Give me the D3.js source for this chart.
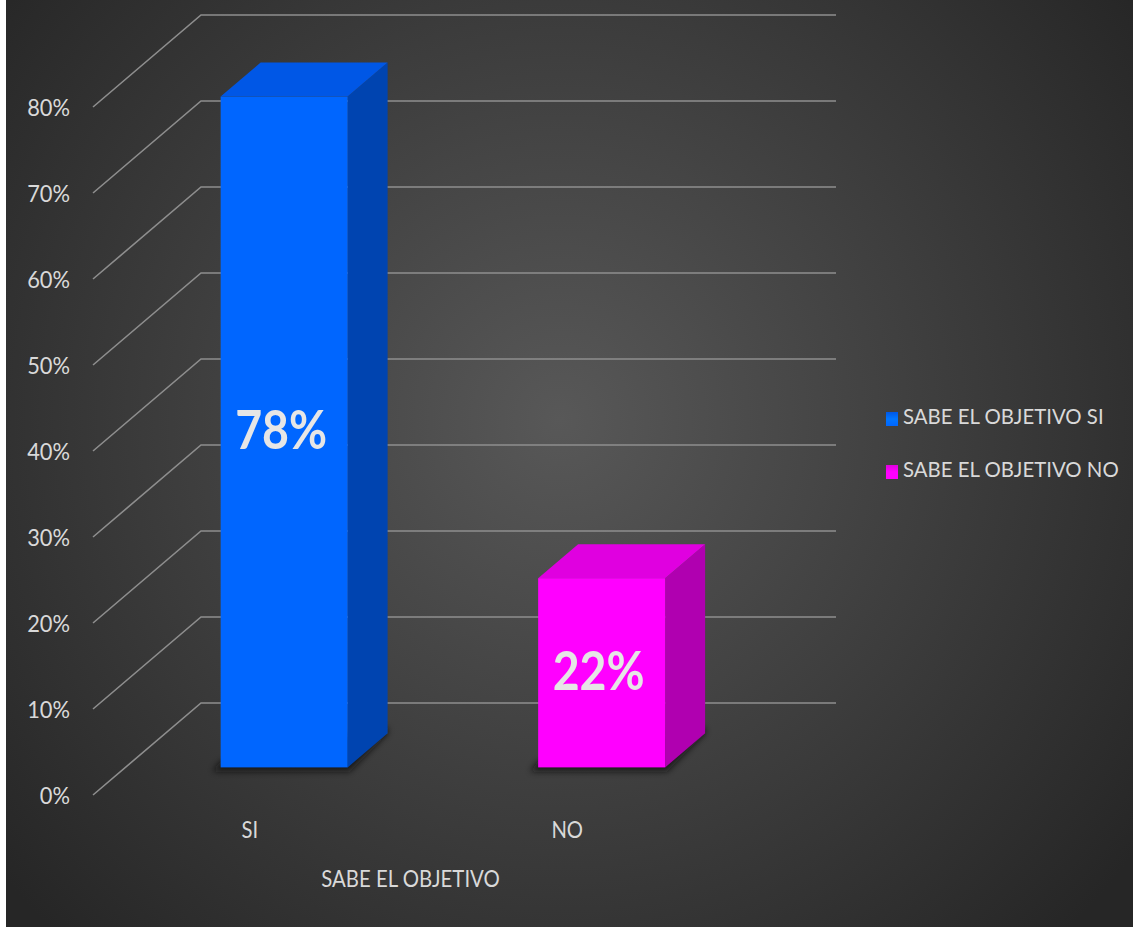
<!DOCTYPE html>
<html>
<head>
<meta charset="utf-8">
<script src="https://cdn.jsdelivr.net/npm/d3@7"></script>
<style>
  html, body { margin: 0; padding: 0; background: #ffffff; }
  svg { display: block; }
  text { font-family: Lato, "Liberation Sans", sans-serif; }
</style>
</head>
<body>
<svg id="chart" width="1133" height="927"></svg>
<script>
// ---- data ----
const categories = ["SI", "NO"];
const values = [0.78, 0.22];
const seriesNames = ["SABE EL OBJETIVO SI", "SABE EL OBJETIVO NO"];
const tickValues = [0, 0.1, 0.2, 0.3, 0.4, 0.5, 0.6, 0.7, 0.8];
const axisTitle = "SABE EL OBJETIVO";
const frontColors = ["#0066ff", "#ff00ff"];
const topColors = ["#0057e6", "#e000e0"];
const sideColors = ["#0044b0", "#b000b0"];

const svg = d3.select("#chart");
const W = 1133, H = 927;

// condense text horizontally (emulates a narrow font) while keeping it real text
function condense(sel, k) {
  sel.each(function () {
    const len = this.getComputedTextLength();
    d3.select(this).attr("textLength", len * k).attr("lengthAdjust", "spacingAndGlyphs");
  });
}

// background
const defs = svg.append("defs");
const bg = defs.append("radialGradient").attr("id", "bg")
  .attr("gradientUnits", "userSpaceOnUse")
  .attr("cx", 560).attr("cy", 420).attr("r", 720);
bg.append("stop").attr("offset", "0%").attr("stop-color", "#585858");
bg.append("stop").attr("offset", "100%").attr("stop-color", "#262626");

const shadow = defs.append("filter").attr("id", "shadow")
  .attr("x", "-30%").attr("y", "-30%").attr("width", "160%").attr("height", "160%");
shadow.append("feGaussianBlur").attr("stdDeviation", 3);

svg.append("rect").attr("x", 6).attr("y", 0).attr("width", W - 6).attr("height", H)
  .attr("fill", "url(#bg)");

// 3D geometry
const depth = [108, -92];      // vector from front plane to back wall
const t0 = 0.3, t1 = 0.67;     // bar front and back depth fractions

const y = d3.scaleLinear().domain([0, 0.8]).range([795, 107]);
const x = d3.scaleBand().domain(categories).range([93, 728]).padding(0);
const barW = x.bandwidth() * 0.4;

// gridlines
const grid = svg.append("g").attr("stroke", "#8e8e8e").attr("stroke-width", 1.6).attr("fill", "none");
tickValues.forEach(t => {
  const yf = y(t);
  const x0 = x.range()[0], x1 = x.range()[1];
  grid.append("path").attr("d", d3.line()([
    [x0, yf],
    [x0 + depth[0], yf + depth[1]],
    [x1 + depth[0], yf + depth[1]]
  ]));
});

// bars
const bars = svg.append("g");
categories.forEach((c, i) => {
  const cx = x(c) + x.bandwidth() / 2;
  const xl = cx - barW / 2 + depth[0] * t0;
  const xr = xl + barW;
  const yb = y(0) + depth[1] * t0;
  const yt = y(values[i]) + depth[1] * t0;
  const dx = depth[0] * (t1 - t0), dy = depth[1] * (t1 - t0);

  // shadow
  bars.append("path")
    .attr("d", d3.line()([[xl - 8, yb + 4], [xr + 2, yb + 4], [xr + dx, yb + dy], [xr + dx, yb + dy - 6], [xl, yb - 6]]) + "Z")
    .attr("fill", "#111").attr("opacity", 0.75).attr("filter", "url(#shadow)");

  bars.append("path")   // side
    .attr("d", d3.line()([[xr, yt], [xr + dx, yt + dy], [xr + dx, yb + dy], [xr, yb]]) + "Z")
    .attr("fill", sideColors[i]);
  bars.append("path")   // top
    .attr("d", d3.line()([[xl, yt], [xl + dx, yt + dy], [xr + dx, yt + dy], [xr, yt]]) + "Z")
    .attr("fill", topColors[i]);
  bars.append("rect")   // front
    .attr("x", xl).attr("y", yt).attr("width", barW).attr("height", yb - yt)
    .attr("fill", frontColors[i]);

  bars.append("text")
    .attr("class", "dlabel")
    .attr("x", xl + barW / 2 - 3).attr("y", (yt + yb) / 2 + 3)
    .attr("text-anchor", "middle").attr("dominant-baseline", "middle")
    .attr("font-size", 54).attr("font-weight", "bold").attr("fill", "#e6e6e6")
    .text(d3.format(".0%")(values[i]));
});
condense(bars.selectAll(".dlabel"), 0.86);

// y axis labels
const yAxis = svg.append("g").attr("transform", "translate(70,0)")
  .call(d3.axisLeft(y).tickValues(tickValues).tickSize(0).tickPadding(0).tickFormat(d3.format(".0%")));
yAxis.select(".domain").remove();
yAxis.selectAll("text").attr("font-size", 23).attr("fill", "#d9d9d9")
  .attr("font-family", null).attr("dy", "0.35em");
condense(yAxis.selectAll("text"), 0.95);

// category labels
const xAxis = svg.append("g").attr("transform", "translate(-2,0)")
  .call(d3.axisBottom(x).tickSize(0).tickPadding(0));
xAxis.select(".domain").remove();
xAxis.selectAll(".tick").attr("transform", d => `translate(${x(d) + x.bandwidth() / 2},830)`);
xAxis.selectAll("text").attr("y", 0).attr("dy", "0.35em").attr("font-size", 23)
  .attr("fill", "#d9d9d9").attr("font-family", null);
condense(xAxis.selectAll("text"), 0.88);

// axis title
const title = svg.append("text").attr("x", (x.range()[0] + x.range()[1]) / 2).attr("y", 881)
  .attr("text-anchor", "middle").attr("dominant-baseline", "middle")
  .attr("font-size", 23).attr("fill", "#d9d9d9").text(axisTitle);
condense(title, 0.885);

// legend
const legend = svg.append("g");
seriesNames.forEach((s, i) => {
  const ly = 419 + i * 53;
  const g = defs.append("linearGradient").attr("id", "lg" + i)
    .attr("x1", 0).attr("y1", 0).attr("x2", 0).attr("y2", 1);
  g.append("stop").attr("offset", "0%").attr("stop-color", topColors[i]);
  g.append("stop").attr("offset", "50%").attr("stop-color", d3.color(frontColors[i]).brighter(0.4));
  g.append("stop").attr("offset", "100%").attr("stop-color", frontColors[i]);
  legend.append("rect").attr("x", 886).attr("y", ly - 7).attr("width", 12).attr("height", 14)
    .attr("fill", `url(#lg${i})`);
  legend.append("text").attr("x", 903).attr("y", ly).attr("dominant-baseline", "middle")
    .attr("font-size", 21).attr("fill", "#d9d9d9").text(s);
});
condense(legend.selectAll("text"), 0.97);
</script>
</body>
</html>
